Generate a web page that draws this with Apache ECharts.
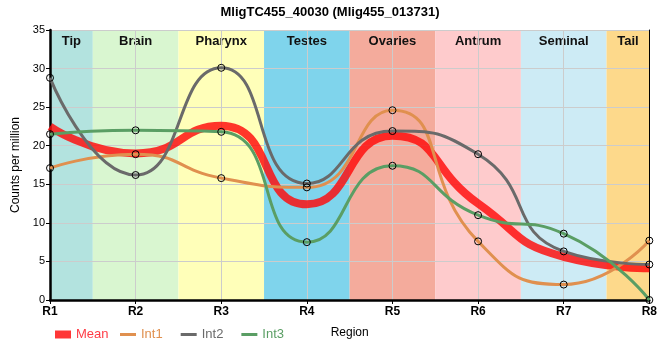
<!DOCTYPE html>
<html><head><meta charset="utf-8">
<script src="https://cdn.jsdelivr.net/npm/echarts@6/dist/echarts.min.js"></script>
<style>html,body{margin:0;padding:0;background:#fff}#c{width:660px;height:360px}</style>
</head><body><div id="c"></div>
<script>
var categories = ['R1','R2','R3','R4','R5','R6','R7','R8'];
var meanVals = [22.5, 19.0, 22.6, 12.4, 21.3, 12.5, 5.6, 4.1];
var int1Vals = [17.1, 18.9, 15.8, 14.6, 24.6, 7.6, 2.0, 7.7];
var int2Vals = [28.8, 16.2, 30.1, 15.1, 21.9, 18.9, 6.3, 4.6];
var int3Vals = [21.5, 22.0, 21.8, 7.5, 17.4, 11.0, 8.6, 0.0];
var bandNames = ['Tip','Brain','Pharynx','Testes','Ovaries','Antrum','Seminal','Tail'];
var bandColors = ['#b3e3df','#d9f6d0','#ffffb9','#7fd4ec','#f4ab9c','#fecbcc','#cdebf5','#fdd98b'];
var yTicks = [0,5,10,15,20,25,30,35];

var font = 'Liberation Sans, Arial, sans-serif';
function pts(vals){ return vals.map(function(v,i){ return [i+1, v]; }); }

var bands = bandNames.map(function(n,i){
  return [{name:n, xAxis: Math.max(1, i+0.5), itemStyle:{color:bandColors[i]}},
          {xAxis: Math.min(categories.length, i+1.5)}];
});

var colMean = 'rgba(255,10,10,0.82)', colI1 = '#e0904f', colI2 = '#6a6a6a', colI3 = '#5a9e64';
var sym = {color:'rgba(0,0,0,0)', borderColor:'#000', borderWidth:1};
var lineIcon = 'path://M0,0h16v3h-16z';

var chart = echarts.init(document.getElementById('c'), null, {renderer:'canvas'});
chart.setOption({
  animation:false,
  textStyle:{fontFamily:font},
  title:{text:'MligTC455_40030 (Mlig455_013731)', left:'center', top:1,
    textStyle:{fontSize:13, fontWeight:'bold', color:'#000', fontFamily:font}},
  grid:{left:50, right:9, top:30, bottom:60},
  legend:[
    {left:50, top:323, itemWidth:16, itemHeight:8,
     textStyle:{fontSize:13, fontFamily:font},
     data:[{name:'Mean', icon:'rect', itemStyle:{color:colMean, borderWidth:0}, textStyle:{color:'#ff3c46'}}]},
    {left:115, top:323, itemWidth:16, itemHeight:8, itemGap:18,
     textStyle:{fontSize:13, fontFamily:font},
     data:[
      {name:'Int1', icon:lineIcon, itemStyle:{color:colI1, borderWidth:0}, textStyle:{color:colI1}},
      {name:'Int2', icon:lineIcon, itemStyle:{color:colI2, borderWidth:0}, textStyle:{color:colI2}},
      {name:'Int3', icon:lineIcon, itemStyle:{color:colI3, borderWidth:0}, textStyle:{color:colI3}}
     ]}
  ],
  xAxis:[{type:'value', min:1, max:categories.length, interval:1, z:2,
    name:'Region', nameLocation:'middle', nameGap:27,
    nameTextStyle:{fontSize:12, color:'#000', fontFamily:font},
    axisLine:{lineStyle:{color:'#000', width:2.5}},
    axisTick:{show:true, length:4, lineStyle:{color:'#000'}},
    axisLabel:{formatter:function(v){ return categories[v-1] || ''; }, fontWeight:'bold', fontSize:12, color:'#000', margin:6, fontFamily:font},
    splitLine:{show:true, lineStyle:{color:'#cccccc', width:1}}},
   {type:'value', position:'top', min:1, max:categories.length, z:2,
    axisLine:{show:true, lineStyle:{color:'#000', width:1}}, axisTick:{show:false}, axisLabel:{show:false}, splitLine:{show:false}}],
  yAxis:[{type:'value', min:0, max:35, interval:5, z:2,
    name:'Counts per million', nameLocation:'middle', nameGap:24,
    nameTextStyle:{fontSize:12, color:'#000', fontFamily:font},
    axisLine:{show:true, lineStyle:{color:'#000', width:2.5}},
    axisTick:{show:true, length:4, lineStyle:{color:'#000'}},
    axisLabel:{fontSize:11, color:'#000', margin:5, fontFamily:font,
      formatter:function(v){ return yTicks.indexOf(v) >= 0 ? String(v) : ''; }},
    splitLine:{show:true, lineStyle:{color:'#cccccc', width:1}}},
   {type:'value', position:'right', min:0, max:35, z:2,
    axisLine:{show:true, lineStyle:{color:'#000', width:1}}, axisTick:{show:false}, axisLabel:{show:false}, splitLine:{show:false}}],
  series:[
    {type:'line', name:'bands', data:[], z:1, silent:true,
     markArea:{silent:true, data:bands,
       label:{show:true, position:'insideTop', distance:5, fontWeight:'bold', fontSize:13, color:'#111', fontFamily:font}}},
    {type:'line', name:'Mean', data:pts(meanVals), smooth:0.55, showSymbol:false, z:3,
     lineStyle:{color:colMean, width:8}, itemStyle:{color:colMean}},
    {type:'line', name:'Int1', data:pts(int1Vals), smooth:0.55, symbol:'circle', symbolSize:7, z:4,
     lineStyle:{color:colI1, width:3}, itemStyle:sym},
    {type:'line', name:'Int2', data:pts(int2Vals), smooth:0.55, symbol:'circle', symbolSize:7, z:4,
     lineStyle:{color:colI2, width:3}, itemStyle:sym},
    {type:'line', name:'Int3', data:pts(int3Vals), smooth:0.55, symbol:'circle', symbolSize:7, z:4,
     lineStyle:{color:colI3, width:3}, itemStyle:sym}
  ]
});
</script></body></html>
